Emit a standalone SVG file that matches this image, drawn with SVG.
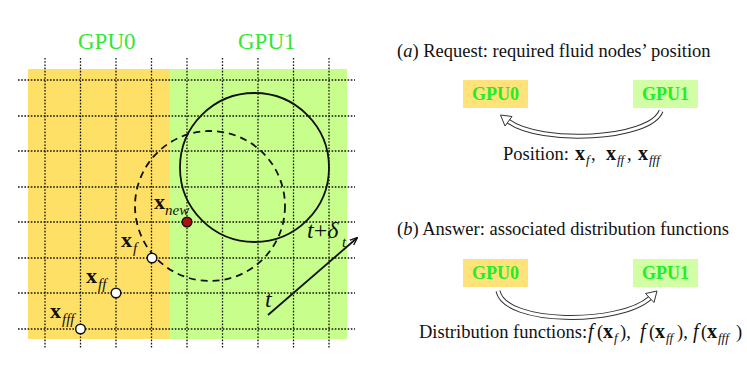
<svg xmlns="http://www.w3.org/2000/svg" width="747" height="374" viewBox="0 0 747 374">
<style>
.grid line{stroke:#111;stroke-width:1.3;stroke-dasharray:1.6 1.6}
.serif{font-family:"Liberation Serif","Times New Roman",serif}
.gpulbl{font-family:"Liberation Serif",serif;font-size:23px;fill:#33e633}
.boxlbl{font-family:"Liberation Serif",serif;font-size:18px;font-weight:bold;fill:#22ee22;text-anchor:middle}
.vec{font-family:"Liberation Serif",serif;font-weight:bold;font-size:22px;fill:#111}
.sub{font-family:"Liberation Serif",serif;font-style:italic;font-size:15px;fill:#111}
.rt{font-family:"Liberation Serif",serif;font-size:18.5px;fill:#111;white-space:pre}
.rv{font-weight:bold;font-size:20px}
.rs{font-style:italic;font-size:13px}
.rf{font-style:italic;font-size:20px}
.pt{stroke:#111;stroke-width:1.5}
.band-o{fill:none;stroke:#333;stroke-width:5}
.band-i{fill:none;stroke:#fff;stroke-width:3}
.head{fill:#fff;stroke:#333;stroke-width:1}
</style>
<defs>
<marker id="ah" viewBox="0 0 10 10" refX="9" refY="5" markerWidth="8" markerHeight="8" orient="auto" markerUnits="userSpaceOnUse">
<path d="M0,1 L10,5 L0,9" fill="none" stroke="#111" stroke-width="1.6"/>
</marker>
</defs>
<rect width="747" height="374" fill="#fff"/>
<g id="domains">
<rect x="28" y="69" width="142" height="270" fill="#ffe066"/>
<rect x="170" y="69" width="177" height="270" fill="#c8ff8c"/>
</g>
<g class="grid" id="grid">
<line x1="45" y1="58" x2="45" y2="348"/>
<line x1="80.5" y1="58" x2="80.5" y2="348"/>
<line x1="116" y1="58" x2="116" y2="348"/>
<line x1="151.5" y1="58" x2="151.5" y2="348"/>
<line x1="187" y1="58" x2="187" y2="348"/>
<line x1="222.5" y1="58" x2="222.5" y2="348"/>
<line x1="258" y1="58" x2="258" y2="348"/>
<line x1="293.5" y1="58" x2="293.5" y2="348"/>
<line x1="329" y1="58" x2="329" y2="348"/>
<line x1="18" y1="80" x2="355" y2="80"/>
<line x1="18" y1="116" x2="355" y2="116"/>
<line x1="18" y1="151" x2="355" y2="151"/>
<line x1="18" y1="187" x2="355" y2="187"/>
<line x1="18" y1="222" x2="355" y2="222"/>
<line x1="18" y1="258" x2="355" y2="258"/>
<line x1="18" y1="293" x2="355" y2="293"/>
<line x1="18" y1="329" x2="355" y2="329"/>
</g>
<text class="gpulbl" x="78" y="49">GPU0</text>
<text class="gpulbl" x="238" y="49">GPU1</text>
<g id="circles">
<circle cx="254.5" cy="167.5" r="74.5" fill="none" stroke="#111" stroke-width="1.8"/>
<circle cx="210" cy="206" r="75" fill="none" stroke="#111" stroke-width="1.8" stroke-dasharray="7 5"/>
</g>
<g id="node-xnew">
<circle class="pt" cx="187" cy="222" r="4.8" fill="#b01010"/>
<text class="vec" x="154" y="209">x</text><text class="sub" x="165" y="215">new</text>
</g>
<g id="node-xf">
<circle class="pt" cx="152" cy="258" r="4.8" fill="#fff"/>
<text class="vec" x="121" y="247">x</text><text class="sub" x="133" y="253">f</text>
</g>
<g id="node-xff">
<circle class="pt" cx="116" cy="293" r="4.8" fill="#fff"/>
<text class="vec" x="86" y="283">x</text><text class="sub" x="98" y="289">ff</text>
</g>
<g id="node-xfff">
<circle class="pt" cx="80.5" cy="329" r="4.8" fill="#fff"/>
<text class="vec" x="50" y="318">x</text><text class="sub" x="62" y="324">fff</text>
</g>
<g id="time-arrow">
<line x1="268" y1="315" x2="357" y2="238" stroke="#111" stroke-width="1.8" marker-end="url(#ah)"/>
<text class="serif" x="265" y="307" font-size="24" font-style="italic" fill="#111">t</text>
<text class="serif" x="307" y="238" font-size="24" fill="#111"><tspan font-style="italic">t</tspan>+<tspan font-style="italic">δ</tspan></text>
<text class="sub" x="342" y="247">t</text>
</g>
<text class="rt" x="397" y="57">(<tspan font-style="italic">a</tspan>) Request: required fluid nodes’ position</text>
<text class="rt" x="397" y="235">(<tspan font-style="italic">b</tspan>) Answer: associated distribution functions</text>
<g id="a-gpu0">
<rect x="463" y="80" width="65" height="28" fill="#ffe27a"/>
<text class="boxlbl" x="495.5" y="100">GPU0</text>
</g>
<g id="a-gpu1">
<rect x="633" y="80" width="65" height="28" fill="#d2ffa6"/>
<text class="boxlbl" x="665.5" y="100">GPU1</text>
</g>
<g id="b-gpu0">
<rect x="463" y="259" width="65" height="28" fill="#ffe27a"/>
<text class="boxlbl" x="495.5" y="279">GPU0</text>
</g>
<g id="b-gpu1">
<rect x="633" y="259" width="65" height="28" fill="#d2ffa6"/>
<text class="boxlbl" x="665.5" y="279">GPU1</text>
</g>
<g id="connectors">
<path class="band-o" d="M661,111 C650,140 540,145 508,121"/>
<path class="band-i" d="M661,111 C650,140 540,145 508,121"/>
<polygon class="head" points="500.5,115 512,116.5 505,126"/>
<path class="band-o" d="M498,291 C505,325 620,325 650,298"/>
<path class="band-i" d="M498,291 C505,325 620,325 650,298"/>
<polygon class="head" points="657,291 654,302.5 645.5,293.5"/>
</g>
<text class="rt" x="503" y="160" font-size="16.5">Position:</text>
<text class="rt" y="160"><tspan class="rv" x="575">x</tspan><tspan class="rs" x="586" y="164">f</tspan><tspan x="591" y="160">,</tspan><tspan class="rv" x="606">x</tspan><tspan class="rs" x="617" y="164">ff</tspan><tspan x="627" y="160">,</tspan><tspan class="rv" x="638">x</tspan><tspan class="rs" x="649" y="164">fff</tspan></text>
<text class="rt" x="419" y="338" font-size="18">Distribution functions:</text>
<text class="rt" y="338"><tspan class="rf" x="588">f</tspan><tspan x="597">(</tspan><tspan class="rv" x="603">x</tspan><tspan class="rs" x="614" y="342">f</tspan><tspan x="620" y="338">),</tspan><tspan class="rf" x="640">f</tspan><tspan x="649">(</tspan><tspan class="rv" x="655">x</tspan><tspan class="rs" x="666" y="342">ff</tspan><tspan x="677" y="338">),</tspan><tspan class="rf" x="693">f</tspan><tspan x="701">(</tspan><tspan class="rv" x="707">x</tspan><tspan class="rs" x="718" y="342">fff</tspan><tspan x="736" y="338">)</tspan></text>
</svg>
